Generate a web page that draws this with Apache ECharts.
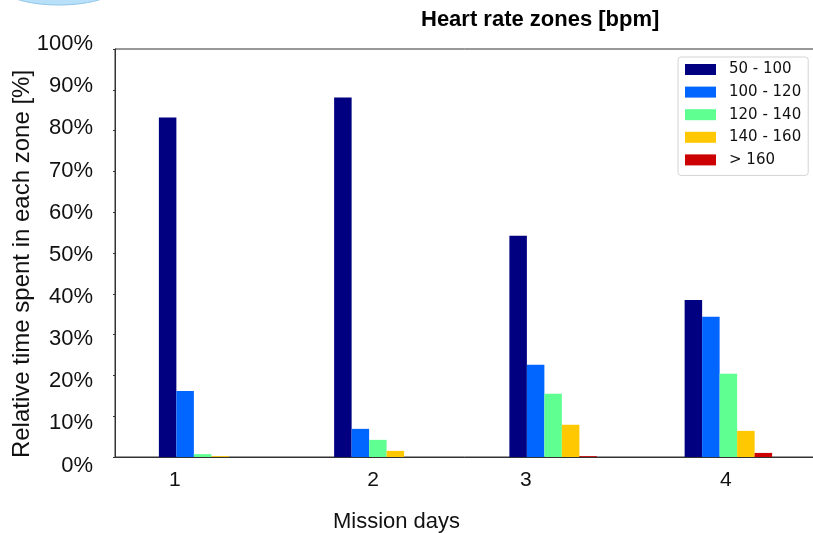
<!DOCTYPE html>
<html>
<head>
<meta charset="utf-8">
<script src="https://cdn.jsdelivr.net/npm/echarts@6/dist/echarts.min.js"></script>
<style>
  html, body { margin: 0; padding: 0; background: #fff; }
  #chart { width: 813px; height: 533px; }
</style>
</head>
<body>
<div id="chart"></div>
<script>
// mission days (categories)
const days = ['1', '2', '3', '4'];
// heart rate zones (series names)
const zones = ['50 - 100', '100 - 120', '120 - 140', '140 - 160', '> 160'];
// relative time spent in each zone [%], per day
const zone50_100 = [83.2, 88.1, 54.2, 38.5];
const zone100_120 = [16.2, 6.9, 22.6, 34.4];
const zone120_140 = [0.7, 4.2, 15.5, 20.4];
const zone140_160 = [0.2, 1.5, 7.9, 6.4];
const zoneOver160 = [0, 0, 0.2, 1.0];
// y tick values
const yTicks = [0, 10, 20, 30, 40, 50, 60, 70, 80, 90, 100];

// day labels in the source sit off the tick marks (in category band units)
const dayLabelPos = [0.342, 1.472, 2.345, 3.486];

const colors = ['#000080', '#0066ff', '#60ff92', '#ffc800', '#cc0000'];
const zoneData = [zone50_100, zone100_120, zone120_140, zone140_160, zoneOver160];

const chart = echarts.init(document.getElementById('chart'));

chart.setOption({
    animation: false,
    textStyle: { fontFamily: 'Liberation Sans, Arial, sans-serif' },
    title: {
        text: 'Heart rate zones [bpm]',
        left: 421,
        top: 9,
        padding: 0,
        textStyle: { fontSize: 22, fontWeight: 'bold', color: '#000' }
    },
    legend: {
        orient: 'vertical',
        left: 678,
        top: 57,
        padding: [5, 7, 8, 7],
        itemWidth: 31,
        itemHeight: 11,
        itemGap: 7.6,
        borderColor: '#d4d4d4',
        borderWidth: 1,
        borderRadius: 3,
        icon: 'rect',
        data: zones,
        textStyle: { fontFamily: 'DejaVu Sans', fontSize: 15, color: '#111', padding: [0, 0, 0, 8] }
    },
    graphic: [{
        type: 'ellipse',
        shape: { cx: 59, cy: -15, rx: 60, ry: 20 },
        style: { fill: '#b8e0f8', stroke: '#8fc6ea', lineWidth: 1 }
    }],
    grid: [
        { left: 115, top: 49, width: 701, height: 408, outerBoundsMode: 'none', show: true, borderColor: '#333', borderWidth: 1 },
        { left: 115, top: 44, width: 701, height: 421.5, outerBoundsMode: 'none' }
    ],
    xAxis: [
        {
            type: 'category',
            gridIndex: 0,
            position: 'bottom',
            data: days,
            axisLine: { lineStyle: { color: '#333', width: 1 } },
            axisTick: { alignWithLabel: true, length: 3, lineStyle: { color: '#333' } },
            axisLabel: { show: false },
            name: 'Mission days',
            nameLocation: 'middle',
            nameGap: 54,
            nameTextStyle: { fontSize: 22, color: '#111', padding: [0, 138, 0, 0] }
        },
        {
            type: 'value',
            gridIndex: 0,
            position: 'bottom',
            offset: 0,
            min: 0,
            max: 4,
            axisLine: { show: false },
            axisTick: { show: false },
            splitLine: { show: false },
            axisLabel: {
                customValues: dayLabelPos,
                margin: 13,
                fontSize: 21,
                color: '#111',
                formatter: function (v) {
                    return days[dayLabelPos.indexOf(v)];
                }
            }
        },
        { type: 'value', gridIndex: 1, min: 0, max: 4, show: false }
    ],
    yAxis: [
        {
            type: 'value',
            gridIndex: 0,
            position: 'left',
            min: 0,
            max: 100,
            interval: 10,
            axisLine: { show: true, lineStyle: { color: '#333', width: 1 } },
            axisTick: { show: true, length: 2, lineStyle: { color: '#333' } },
            axisLabel: { show: false },
            splitLine: { show: false },
            name: 'Relative time spent in each zone [%]',
            nameLocation: 'middle',
            nameRotate: 90,
            nameGap: 81,
            nameTextStyle: { fontSize: 24, color: '#111', padding: [0, 22, 0, 0] }
        },
        {
            type: 'value',
            gridIndex: 1,
            position: 'left',
            min: 0,
            max: 100,
            interval: 10,
            axisLine: { show: false },
            axisTick: { show: false },
            splitLine: { show: false },
            axisLabel: {
                customValues: yTicks,
                margin: 22,
                fontSize: 22,
                color: '#111',
                formatter: '{value}%'
            }
        }
    ],
    series: zones.map(function (name, i) {
        return {
            name: name,
            type: 'bar',
            xAxisIndex: 0,
            yAxisIndex: 0,
            data: zoneData[i],
            barWidth: 17.5,
            barGap: '0%',
            itemStyle: { color: colors[i] }
        };
    })
});
</script>
</body>
</html>
